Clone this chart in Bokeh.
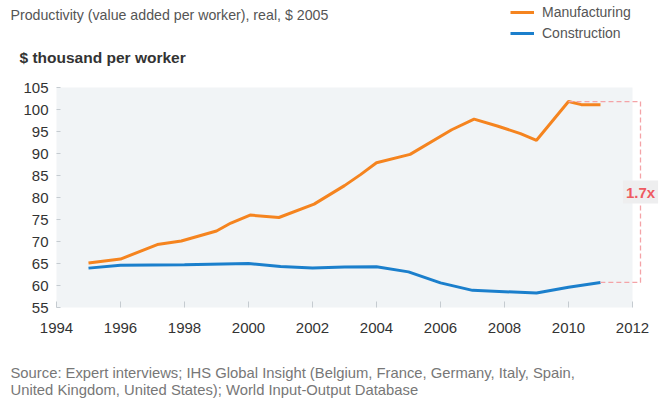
from bokeh.plotting import figure
from bokeh.models import Range1d, Label, BoxAnnotation, Legend, LegendItem
from bokeh.embed import file_html
from bokeh.resources import INLINE

# ---------------- data ----------------
title_text = "Productivity (value added per worker), real, $ 2005"
unit_text = "$ thousand per worker"
source_lines = [
    "Source: Expert interviews; IHS Global Insight (Belgium, France, Germany, Italy, Spain,",
    "United Kingdom, United States); World Input-Output Database",
]
series_names = ["Manufacturing", "Construction"]

manuf_years = [1995.0, 1996.0, 1997.15, 1997.9, 1999.0, 1999.45, 2000.05, 2000.95,
               2002.05, 2003.0, 2003.5, 2004.0, 2005.05, 2006.35, 2007.05, 2007.8,
               2008.5, 2009.0, 2010.0, 2010.4, 2011.0]
manuf_values = [65.1, 66.0, 69.3, 70.1, 72.4, 74.2, 76.0, 75.45,
                78.5, 82.7, 85.2, 87.9, 89.8, 95.4, 97.8, 96.2,
                94.5, 93.0, 101.8, 101.1, 101.1]

constr_years = [1995, 1996, 1998, 2000, 2001, 2002, 2003, 2004, 2005, 2006,
                2007, 2008, 2009, 2010, 2011]
constr_values = [63.95, 64.6, 64.7, 65.0, 64.3, 63.95, 64.2, 64.25, 63.1, 60.6,
                 58.9, 58.6, 58.3, 59.6, 60.7]

x_ticks = list(range(1994, 2013, 2))
y_ticks = list(range(55, 106, 5))
ratio_text = "1.7x"

# ---------------- layout ----------------
W, H = 659, 401
PLOT_L, PLOT_T, PLOT_B = 56, 87, 307      # page px of the shaded plot area
PX_PER_YEAR = 32.0
x0, x_last = 1994, 2012
y0, y1 = 55, 105
PX_PER_UNIT = (PLOT_B - PLOT_T) / (y1 - y0)

# the frame fills the whole canvas; ranges are chosen so the shaded area lands right
xr = Range1d(x0 - PLOT_L / PX_PER_YEAR, x0 + (W - PLOT_L) / PX_PER_YEAR)
yr = Range1d(y0 - (H - PLOT_B) / PX_PER_UNIT, y1 + PLOT_T / PX_PER_UNIT)

FONT = "Liberation Sans"
ORANGE = "#F5841F"
BLUE = "#1B7FCC"

p = figure(width=W, height=H, output_backend="svg", toolbar_location=None,
           x_range=xr, y_range=yr,
           min_border_left=0, min_border_right=0, min_border_top=0,
           min_border_bottom=0)
p.background_fill_color = "white"
p.border_fill_color = "white"
p.outline_line_color = None
p.xgrid.visible = False
p.ygrid.visible = False

p.add_layout(BoxAnnotation(left=x0, right=x_last, bottom=y0, top=y1,
                           fill_color="#F1F4F6", fill_alpha=1.0,
                           line_color=None, level="underlay"))

# axes, pinned to the edges of the shaded area
p.xaxis.fixed_location = y0
p.yaxis.fixed_location = x0
for ax in (p.xaxis[0], p.yaxis[0]):
    ax.axis_line_color = None
    ax.minor_tick_line_color = None
    ax.major_tick_line_color = "#C5CBD0"
    ax.major_tick_line_width = 1
    ax.major_label_text_font = FONT
    ax.major_label_text_font_size = "15px"
    ax.major_label_text_color = "#333333"
p.xaxis.ticker = x_ticks
p.yaxis.ticker = y_ticks
p.xaxis.major_tick_in = 6
p.xaxis.major_tick_out = 0
p.xaxis.major_label_standoff = 15
p.yaxis.major_tick_in = 4
p.yaxis.major_tick_out = 0
p.yaxis.major_label_standoff = 8

# series
r_m = p.line(manuf_years, manuf_values, line_color=ORANGE, line_width=3)
r_c = p.line(constr_years, constr_values, line_color=BLUE, line_width=3)

# ratio bracket
top_val = max(manuf_values)
top_x = manuf_years[manuf_values.index(top_val)]
bot_val = constr_values[-1]
bot_x = constr_years[-1]
bx = x0 + (640 - PLOT_L) / PX_PER_YEAR
p.line([top_x, bx, bx, bot_x], [top_val, top_val, bot_val, bot_val],
       line_color="#F4A3A7", line_width=1.3, line_dash="5 3")
p.add_layout(Label(x=bx, y=(top_val + bot_val) / 2, text=ratio_text,
                   text_align="center", text_baseline="middle",
                   text_font=FONT, text_font_style="bold", text_font_size="15px",
                   text_color="#EE5A61", background_fill_color="#EEEEEF",
                   background_fill_alpha=1.0, padding=3))

# free-standing texts (screen units: from frame left / frame bottom)
def page_label(text, px, py, size, color, style="normal"):
    return Label(x=px, y=H - py, x_units="screen", y_units="screen", text=text,
                 text_align="left", text_baseline="middle", text_font=FONT,
                 text_font_size=size, text_font_style=style, text_color=color)

p.add_layout(page_label(title_text, 10, 14, "14.2px", "#555555"))
p.add_layout(page_label(unit_text, 19, 57, "15.5px", "#333333", style="bold"))
for i, line in enumerate(source_lines):
    p.add_layout(page_label(line, 10, 372 + 17 * i, "14.8px", "#777777"))

# legend: location is its bottom-left corner, measured up from the frame bottom
ROW_H, ROW_GAP, LEG_TOP = 18, 3, 3
leg_bottom_page = LEG_TOP + 2 * ROW_H + ROW_GAP
legend = Legend(items=[LegendItem(label=series_names[0], renderers=[r_m]),
                       LegendItem(label=series_names[1], renderers=[r_c])],
                location=(510, H - leg_bottom_page), orientation="vertical",
                glyph_width=24, glyph_height=ROW_H, label_height=ROW_H, spacing=ROW_GAP,
                label_standoff=8, padding=0, margin=0,
                border_line_color=None, background_fill_alpha=0,
                label_text_font=FONT, label_text_font_size="14px",
                label_text_color="#555555")
p.add_layout(legend)

open("out.html", "w").write(file_html(p, INLINE))
